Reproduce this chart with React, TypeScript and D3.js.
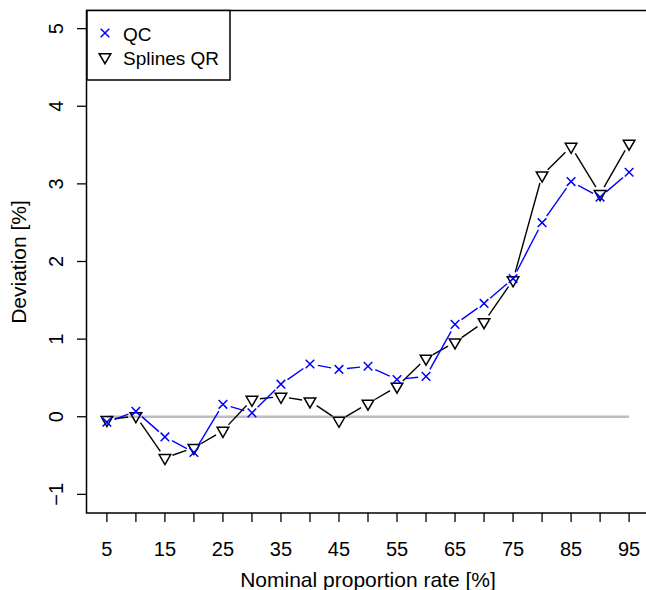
import React from "react";
import * as d3 from "d3";

const rates = [5, 10, 15, 20, 25, 30, 35, 40, 45, 50, 55, 60, 65, 70, 75, 80, 85, 90, 95];
const qcValues = [-0.07, 0.07, -0.26, -0.46, 0.16, 0.05, 0.42, 0.68, 0.61, 0.65, 0.48, 0.52, 1.19, 1.46, 1.78, 2.5, 3.03, 2.83, 3.15];
const splinesValues = [-0.04, 0.01, -0.53, -0.4, -0.18, 0.22, 0.26, 0.2, -0.05, 0.17, 0.39, 0.75, 0.96, 1.22, 1.76, 3.11, 3.48, 2.87, 3.52];
const xTickLabels = [5, 15, 25, 35, 45, 55, 65, 75, 85, 95];
const yTickLabels = [-1, 0, 1, 2, 3, 4, 5];
const seriesNames = ["QC", "Splines QR"];

const W = 646;
const H = 590;
const FONT = "'Liberation Sans', Arial, Helvetica, sans-serif";

export default function App() {
  const x = d3.scaleLinear().domain([1.4, 98.6]).range([86, 650]);
  const y = d3.scaleLinear().domain([-1.24, 5.24]).range([513, 10]);
  const GAP = 8;
  const R = 4.3;

  const segs = (vals: number[]) => {
    const out: { x1: number; y1: number; x2: number; y2: number }[] = [];
    for (let i = 0; i < vals.length - 1; i++) {
      const ax = x(rates[i]), ay = y(vals[i]);
      const bx = x(rates[i + 1]), by = y(vals[i + 1]);
      const dx = bx - ax, dy = by - ay;
      const len = Math.hypot(dx, dy);
      if (len <= 2 * GAP) continue;
      const ux = dx / len, uy = dy / len;
      out.push({ x1: ax + ux * GAP, y1: ay + uy * GAP, x2: bx - ux * GAP, y2: by - uy * GAP });
    }
    return out;
  };

  const tri = (cx: number, cy: number) => {
    const r = 1.555 * R;
    const xc = 1.347 * R;
    const yc = 0.778 * R;
    return `M${cx},${cy + r}L${cx + xc},${cy - yc}L${cx - xc},${cy - yc}Z`;
  };
  const cross = (cx: number, cy: number) =>
    `M${cx - R},${cy - R}L${cx + R},${cy + R}M${cx - R},${cy + R}L${cx + R},${cy - R}`;

  const allTicks = d3.range(5, 96, 5);

  return (
    <svg width={W} height={H} style={{ position: "absolute", left: 0, top: 0, background: "#fff" }} fontFamily={FONT}>
      <rect x={0} y={0} width={W} height={H} fill="#fff" />
      {/* zero reference line */}
      <line x1={x(5)} x2={x(95)} y1={y(0)} y2={y(0)} stroke="#bebebe" strokeWidth={2.5} />
      {/* Splines QR */}
      {segs(splinesValues).map((s, i) => (
        <line key={"sl" + i} {...s} stroke="#000" strokeWidth={1.4} />
      ))}
      {splinesValues.map((v, i) => (
        <path key={"sp" + i} d={tri(x(rates[i]), y(v))} fill="none" stroke="#000" strokeWidth={1.5} />
      ))}
      {/* QC */}
      {segs(qcValues).map((s, i) => (
        <line key={"ql" + i} {...s} stroke="#0000ff" strokeWidth={1.4} />
      ))}
      {qcValues.map((v, i) => (
        <path key={"qp" + i} d={cross(x(rates[i]), y(v))} fill="none" stroke="#0000ff" strokeWidth={1.5} />
      ))}
      {/* box */}
      <rect x={86.5} y={10.5} width={570} height={502.5} fill="none" stroke="#000" strokeWidth={1.5} />
      {/* x axis ticks */}
      {allTicks.map((t) => (
        <line key={"xt" + t} x1={x(t)} x2={x(t)} y1={513} y2={522} stroke="#000" strokeWidth={1.3} />
      ))}
      {xTickLabels.map((t) => (
        <text key={"xl" + t} x={x(t)} y={556} fontSize={20} textAnchor="middle" fill="#000">
          {t}
        </text>
      ))}
      {/* y axis ticks */}
      {yTickLabels.map((t) => (
        <g key={"yt" + t}>
          <line x1={77} x2={86} y1={y(t)} y2={y(t)} stroke="#000" strokeWidth={1.3} />
          <text
            transform={`translate(${63},${y(t)}) rotate(-90)`}
            fontSize={20}
            textAnchor="middle"
            fill="#000"
          >
            {t < 0 ? "\u2212" + Math.abs(t) : String(t)}
          </text>
        </g>
      ))}
      {/* axis titles */}
      <text x={368} y={587} fontSize={21} textAnchor="middle" fill="#000">
        Nominal proportion rate [%]
      </text>
      <text transform={`translate(26,262) rotate(-90)`} fontSize={21} textAnchor="middle" fill="#000">
        Deviation [%]
      </text>
      {/* legend */}
      <rect x={87} y={10.5} width={143} height={69.5} fill="#fff" stroke="#000" strokeWidth={1.5} />
      <path d={cross(105, 33)} fill="none" stroke="#0000ff" strokeWidth={1.5} />
      <text x={123} y={41} fontSize={19} fill="#000">
        {seriesNames[0]}
      </text>
      <path d={tri(105, 57)} fill="none" stroke="#000" strokeWidth={1.5} />
      <text x={123} y={65} fontSize={19} fill="#000">
        {seriesNames[1]}
      </text>
    </svg>
  );
}
